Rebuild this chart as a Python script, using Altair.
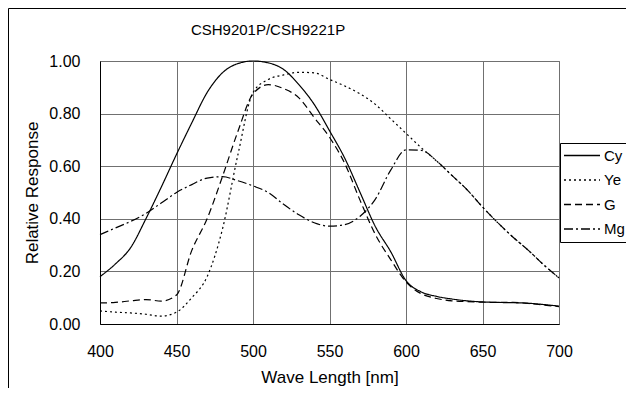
import altair as alt
import pandas as pd

title_text = "CSH9201P/CSH9221P"
series_names = ["Cy", "Ye", "G", "Mg"]
wavelength = [400, 410, 420, 430, 440, 450, 460, 470, 480, 490, 500, 510, 520, 530, 540,
              550, 560, 570, 580, 590, 600, 610, 620, 630, 640, 650, 660, 670, 680, 690, 700]
cy = [0.18, 0.228, 0.29, 0.40, 0.52, 0.645, 0.765, 0.88, 0.955, 0.99, 1.0, 0.993, 0.968, 0.91, 0.835,
      0.735, 0.63, 0.50, 0.37, 0.275, 0.165, 0.122, 0.105, 0.095, 0.088, 0.084, 0.082, 0.081, 0.079, 0.074, 0.068]
ye = [0.05, 0.045, 0.042, 0.037, 0.03, 0.045, 0.10, 0.18, 0.36, 0.64, 0.88, 0.93, 0.947, 0.957, 0.955,
      0.93, 0.905, 0.875, 0.835, 0.78, 0.725, 0.67, 0.62, 0.565, 0.51, 0.445, 0.385, 0.33, 0.28, 0.225, 0.175]
g = [0.08, 0.082, 0.088, 0.093, 0.087, 0.11, 0.28, 0.40, 0.56, 0.73, 0.875, 0.91, 0.895, 0.86, 0.785,
     0.71, 0.61, 0.47, 0.34, 0.245, 0.16, 0.115, 0.097, 0.088, 0.085, 0.083, 0.082, 0.082, 0.078, 0.072, 0.066]
mg = [0.34, 0.365, 0.39, 0.42, 0.46, 0.50, 0.53, 0.555, 0.56, 0.545, 0.525, 0.50, 0.455, 0.415, 0.385,
      0.372, 0.378, 0.41, 0.475, 0.585, 0.662, 0.66, 0.62, 0.565, 0.51, 0.445, 0.385, 0.33, 0.28, 0.225, 0.175]
x_ticks = [400, 450, 500, 550, 600, 650, 700]
y_ticks = [0.0, 0.2, 0.4, 0.6, 0.8, 1.0]

rows = []
for name, vals in zip(series_names, [cy, ye, g, mg]):
    for w, v in zip(wavelength, vals):
        rows.append({"wl": w, "val": v, "series": name})
df = pd.DataFrame(rows)

FONT = "Liberation Sans"

lines = alt.Chart(df).mark_line(color="black", strokeWidth=1.2, interpolate="monotone").encode(
    x=alt.X("wl:Q", scale=alt.Scale(domain=[400, 700], nice=False),
            axis=alt.Axis(values=x_ticks, title="Wave Length [nm]", format="d",
                          grid=True, gridColor="#707070", gridWidth=1,
                          ticks=False, tickSize=0, labelPadding=27, labelBaseline="middle",
                          labelFlush=False, labelFont=FONT, labelFontSize=16, labelColor="black",
                          titleFont=FONT, titleFontSize=17, titleFontWeight="normal", titleColor="black",
                          titleX=229.5, titleY=53, titleBaseline="middle", titleAlign="center",
                          domainColor="black")),
    y=alt.Y("val:Q", scale=alt.Scale(domain=[0, 1], nice=False),
            axis=alt.Axis(values=y_ticks, title="Relative Response", format=".2f",
                          grid=True, gridColor="#707070", gridWidth=1,
                          ticks=False, tickSize=0, labelPadding=20,
                          labelFont=FONT, labelFontSize=16, labelColor="black",
                          titleFont=FONT, titleFontSize=17, titleFontWeight="normal", titleColor="black",
                          titleAngle=270, titleX=-68, titleY=131.5, titleBaseline="middle", titleAlign="center",
                          domainColor="black")),
    strokeDash=alt.StrokeDash("series:N",
        scale=alt.Scale(domain=series_names, range=[[1, 0], [2, 3], [7, 4], [9, 3, 2, 3]]),
        legend=alt.Legend(title=None, orient="none", legendX=460, legendY=82,
                          symbolType="stroke", symbolSize=1296, symbolStrokeColor="black",
                          symbolStrokeWidth=1.3, clipHeight=19, rowPadding=5.5,
                          labelOffset=3, padding=3, strokeColor="black", fillColor="white",
                          labelFont=FONT, labelFontSize=15, labelColor="black")),
)

title_df = pd.DataFrame({"t": [title_text]})
title = alt.Chart(title_df).mark_text(font=FONT, fontSize=15, color="black").encode(
    text="t:N", x=alt.value(168), y=alt.value(-31))

frame = alt.Chart(title_df).mark_rect(fillOpacity=0, stroke="black", strokeWidth=1).encode(
    x=alt.value(-91.5), x2=alt.value(800), y=alt.value(-52.5), y2=alt.value(600))

chart = alt.layer(frame, lines, title).properties(
    width=459, height=263,
    autosize=alt.AutoSizeParams(type="none"),
    padding={"left": 92, "top": 53, "right": 67, "bottom": 64},
).configure_view(stroke="#707070", strokeWidth=1)

chart.save("out.html", embed_options={"renderer": "svg", "actions": False})
